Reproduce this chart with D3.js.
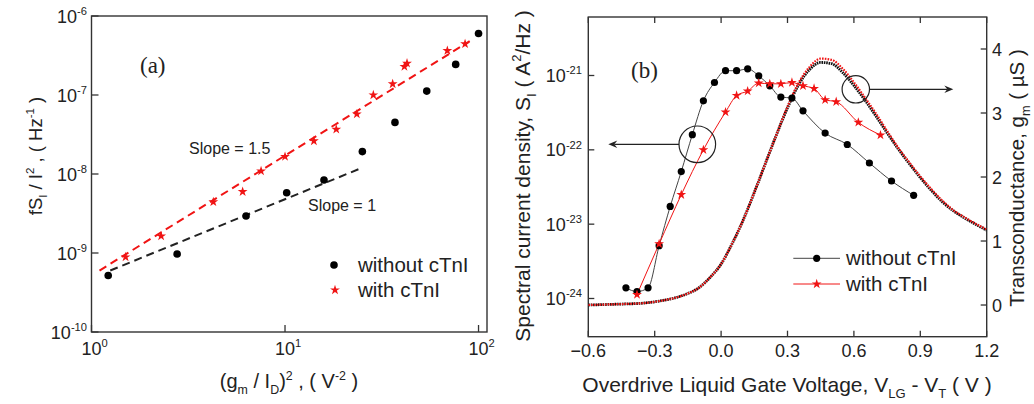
<!DOCTYPE html>
<html><head><meta charset="utf-8">
<script src="https://cdn.jsdelivr.net/npm/d3@7"></script>
<style>
body{margin:0;background:#fff}
text{font-family:Arial,"Liberation Sans",sans-serif;fill:#222;white-space:pre}
</style>
</head><body>
<svg id="c" width="1034" height="404"></svg>
<script>
// ---------- Panel (a) data ----------
const aXTicks = [1, 10, 100];
const aXTickExp = ["0", "1", "2"];
const aYTicks = [1e-10, 1e-9, 1e-8, 1e-7, 1e-6];
const aYTickExp = ["-10", "-9", "-8", "-7", "-6"];
const aWithoutX = [1.22, 2.77, 6.29, 10.2, 15.9, 25.1, 37.0, 54.0, 76.2, 100];
const aWithoutY = [5.2e-10, 9.7e-10, 2.94e-9, 5.8e-9, 8.4e-9, 1.92e-8, 4.5e-8, 1.12e-7, 2.44e-7, 6.0e-7];
const aWithX = [1.50, 2.29, 4.26, 6.04, 7.52, 10.0, 14.1, 18.4, 23.5, 28.6, 36.0, 41.4, 42.7, 69.0, 85.2];
const aWithY = [8.9e-10, 1.64e-9, 4.43e-9, 5.97e-9, 1.09e-8, 1.66e-8, 2.62e-8, 3.68e-8, 5.74e-8, 1.0e-7, 1.38e-7, 2.29e-7, 2.52e-7, 3.64e-7, 4.43e-7];
const aFitWithX = [1.1, 90];
const aFitWithY = [6.0e-10, 4.8e-7];
const aFitWithoutX = [1.25, 24];
const aFitWithoutY = [6.0e-10, 1.15e-8];
const legendLabels = ["without cTnI", "with cTnI"];

// ---------- Panel (b) data ----------
const bXTicks = [-0.6, -0.3, 0.0, 0.3, 0.6, 0.9, 1.2];
const bYTicks = [1e-24, 1e-23, 1e-22, 1e-21];
const bYTickExp = ["-24", "-23", "-22", "-21"];
const bGmTicks = [0, 1, 2, 3, 4];
const bWithoutV = [-0.43, -0.38, -0.33, -0.28, -0.23, -0.18, -0.13, -0.08, -0.03, 0.02, 0.07, 0.12, 0.17, 0.22, 0.27, 0.32, 0.37, 0.47, 0.57, 0.67, 0.77, 0.87];
const bWithoutS = [1.39e-24, 1.24e-24, 1.39e-24, 5.14e-24, 1.73e-23, 5.1e-23, 1.6e-22, 4.57e-22, 8.05e-22, 1.16e-21, 1.16e-21, 1.23e-21, 9.9e-22, 7.27e-22, 5.13e-22, 4.97e-22, 3.35e-22, 1.68e-22, 1.18e-22, 6.65e-23, 3.81e-23, 2.44e-23];
const bWithV = [-0.38, -0.28, -0.18, -0.08, 0.02, 0.07, 0.12, 0.17, 0.22, 0.27, 0.32, 0.37, 0.42, 0.47, 0.52, 0.62, 0.72];
const bWithS = [1.13e-24, 5.42e-24, 2.49e-23, 1.0e-22, 3.22e-22, 5.38e-22, 6.17e-22, 7.9e-22, 7.73e-22, 7.73e-22, 8.05e-22, 7.27e-22, 6.68e-22, 4.71e-22, 4.43e-22, 2.34e-22, 1.58e-22];
const bGmV = [-0.6, -0.55, -0.5, -0.45, -0.4, -0.35, -0.3, -0.25, -0.2, -0.15, -0.1, -0.05, 0.0, 0.05, 0.1, 0.15, 0.2, 0.25, 0.3, 0.35, 0.4, 0.45, 0.5, 0.55, 0.6, 0.65, 0.7, 0.75, 0.8, 0.85, 0.9, 0.95, 1.0, 1.05, 1.1, 1.15, 1.2];
const bGmWithout = [0.00, 0.005, 0.01, 0.015, 0.02, 0.03, 0.05, 0.08, 0.12, 0.18, 0.27, 0.43, 0.64, 0.96, 1.33, 1.76, 2.21, 2.66, 3.08, 3.44, 3.68, 3.79, 3.77, 3.63, 3.43, 3.20, 2.95, 2.69, 2.44, 2.21, 1.99, 1.79, 1.61, 1.47, 1.36, 1.26, 1.17];
const bGmWith = [0.00, 0.005, 0.01, 0.015, 0.02, 0.03, 0.05, 0.08, 0.12, 0.18, 0.27, 0.43, 0.64, 0.96, 1.33, 1.76, 2.21, 2.66, 3.10, 3.47, 3.72, 3.85, 3.83, 3.69, 3.48, 3.24, 2.99, 2.72, 2.46, 2.23, 2.01, 1.81, 1.63, 1.48, 1.37, 1.27, 1.18];

const RED = "#f01414";
const INK = "#222";
const svg = d3.select("#c");

function rich(sel, parts, fs) {
  let cur = 0;
  parts.forEach(([t, m]) => {
    const target = m === "sup" ? -0.42 * fs : m === "sub" ? 0.28 * fs : 0;
    sel.append("tspan").attr("dy", target - cur)
      .attr("font-size", m === "n" ? fs : fs * 0.62).text(t);
    cur = target;
  });
  return sel;
}
function star(sz){ return d3.symbol().type(d3.symbolStar).size(sz)(); }

// ================= Panel (a) =================
const ax = d3.scaleLog().domain([1, 110.6]).range([91.5, 487]);
const ay = d3.scaleLog().domain([1e-10, 1e-6]).range([332, 16]);
const ga = svg.append("g");
ga.append("rect").attr("x", 91.5).attr("y", 16).attr("width", 487 - 91.5).attr("height", 316)
  .attr("fill", "none").attr("stroke", "#333").attr("stroke-width", 1.4);
aXTicks.forEach((t, i) => {
  ga.append("line").attr("x1", ax(t)).attr("x2", ax(t)).attr("y1", 332).attr("y2", 325).attr("stroke", "#333").attr("stroke-width", 1.3);
  const tx = ga.append("text").attr("x", ax(t) - 10).attr("y", 355);
  rich(tx, [["10", "n"], [aXTickExp[i], "sup"]], 18);
});
aYTicks.forEach((t, i) => {
  ga.append("line").attr("x1", 91.5).attr("x2", 98.5).attr("y1", ay(t)).attr("y2", ay(t)).attr("stroke", "#333").attr("stroke-width", 1.3);
  const tx = ga.append("text").attr("x", 87).attr("y", ay(t) + 6.5).attr("text-anchor", "end");
  rich(tx, [["10", "n"], [aYTickExp[i], "sup"]], 18);
});
// fit lines
const aLine = d3.line().x(d => ax(d[0])).y(d => ay(d[1]));
ga.append("path").attr("d", aLine(d3.zip(aFitWithoutX, aFitWithoutY)))
  .attr("fill", "none").attr("stroke", INK).attr("stroke-width", 2).attr("stroke-dasharray", "8,5");
ga.append("path").attr("d", aLine(d3.zip(aFitWithX, aFitWithY)))
  .attr("fill", "none").attr("stroke", RED).attr("stroke-width", 2).attr("stroke-dasharray", "8,5");
// points
ga.selectAll("circle.wo").data(d3.zip(aWithoutX, aWithoutY)).join("circle")
  .attr("cx", d => ax(d[0])).attr("cy", d => ay(d[1])).attr("r", 3.8).attr("fill", "#000");
ga.selectAll("path.wi").data(d3.zip(aWithX, aWithY)).join("path")
  .attr("d", star(30)).attr("transform", d => `translate(${ax(d[0])},${ay(d[1])})`).attr("fill", RED);
ga.append("text").attr("x", 140).attr("y", 73).attr("font-size", 23)
  .style("font-family", "'Liberation Serif','Times New Roman',serif").text("(a)");
ga.append("text").attr("x", 189).attr("y", 154).attr("font-size", 16).text("Slope = 1.5");
ga.append("text").attr("x", 308).attr("y", 211).attr("font-size", 16).text("Slope = 1");
// legend
ga.append("circle").attr("cx", 334).attr("cy", 265).attr("r", 3.8).attr("fill", "#000");
ga.append("text").attr("x", 358).attr("y", 272).attr("font-size", 20.5).text(legendLabels[0]);
ga.append("path").attr("d", star(30)).attr("transform", "translate(335,290)").attr("fill", RED);
ga.append("text").attr("x", 358).attr("y", 297).attr("font-size", 20.5).text(legendLabels[1]);
// axis titles
const axt = ga.append("text").attr("x", 289).attr("y", 388).attr("text-anchor", "middle");
rich(axt, [["(g", "n"], ["m", "sub"], [" / I", "n"], ["D", "sub"], [")", "n"], ["2", "sup"], [" , ( V", "n"], ["-2", "sup"], [" )", "n"]], 20);
const ayt = ga.append("text").attr("transform", "translate(42,156) rotate(-90)").attr("text-anchor", "middle");
rich(ayt, [["fS", "n"], ["I", "sub"], [" / I", "n"], ["2", "sup"], [" , ( Hz", "n"], ["-1", "sup"], [" )", "n"]], 18.5);

// ================= Panel (b) =================
const L = 588.3, R = 986.7, T = 17, B = 336.7;
const bx = d3.scaleLinear().domain([-0.6, 1.2]).range([L, R]);
const by = d3.scaleLog().domain([Math.pow(10, -24.514), Math.pow(10, -20.213)]).range([B, T]);
const bg = d3.scaleLinear().domain([-0.495, 4.5]).range([B, T]);
const gb = svg.append("g");
gb.append("defs").append("clipPath").attr("id", "clipb").append("rect")
  .attr("x", L).attr("y", T).attr("width", R - L).attr("height", B - T);
gb.append("rect").attr("x", L).attr("y", T).attr("width", R - L).attr("height", B - T)
  .attr("fill", "none").attr("stroke", "#333").attr("stroke-width", 1.4);
bXTicks.forEach(t => {
  gb.append("line").attr("x1", bx(t)).attr("x2", bx(t)).attr("y1", B).attr("y2", B - 6).attr("stroke", "#333").attr("stroke-width", 1.3);
  gb.append("line").attr("x1", bx(t)).attr("x2", bx(t)).attr("y1", T).attr("y2", T + 6).attr("stroke", "#333").attr("stroke-width", 1.3);
  gb.append("text").attr("x", bx(t)).attr("y", 357).attr("text-anchor", "middle").attr("font-size", 18).text(d3.format(".1f")(t));
});
bYTicks.forEach((t, i) => {
  gb.append("line").attr("x1", L).attr("x2", L + 6).attr("y1", by(t)).attr("y2", by(t)).attr("stroke", "#333").attr("stroke-width", 1.3);
  const tx = gb.append("text").attr("x", 582).attr("y", by(t) + 6.5).attr("text-anchor", "end");
  rich(tx, [["10", "n"], [bYTickExp[i], "sup"]], 18);
});
bGmTicks.forEach(t => {
  gb.append("line").attr("x1", R).attr("x2", R - 6).attr("y1", bg(t)).attr("y2", bg(t)).attr("stroke", "#333").attr("stroke-width", 1.3);
  gb.append("text").attr("x", 992).attr("y", bg(t) + 6.5).attr("font-size", 18).text(t);
});
const plot = gb.append("g").attr("clip-path", "url(#clipb)");
// gm curves
const gmLine = d3.line().x(d => bx(d[0])).y(d => bg(d[1])).curve(d3.curveMonotoneX);
plot.append("path").attr("d", gmLine(d3.zip(bGmV, bGmWithout)))
  .attr("fill", "none").attr("stroke", "#111").attr("stroke-width", 2.8).attr("stroke-dasharray", "1.6,0.8");
plot.append("path").attr("d", gmLine(d3.zip(bGmV, bGmWith)))
  .attr("fill", "none").attr("stroke", RED).attr("stroke-width", 2.2).attr("stroke-dasharray", "1.6,1.2");
// S_I series
const sLine = d3.line().x(d => bx(d[0])).y(d => by(d[1])).curve(d3.curveMonotoneX);
plot.append("path").attr("d", sLine(d3.zip(bWithoutV, bWithoutS)))
  .attr("fill", "none").attr("stroke", "#444").attr("stroke-width", 1);
plot.append("path").attr("d", sLine(d3.zip(bWithV, bWithS)))
  .attr("fill", "none").attr("stroke", RED).attr("stroke-width", 1);
plot.selectAll("circle.bw").data(d3.zip(bWithoutV, bWithoutS)).join("circle")
  .attr("cx", d => bx(d[0])).attr("cy", d => by(d[1])).attr("r", 3.6).attr("fill", "#000");
plot.selectAll("path.bs").data(d3.zip(bWithV, bWithS)).join("path")
  .attr("d", star(30)).attr("transform", d => `translate(${bx(d[0])},${by(d[1])})`).attr("fill", RED);
// annotations
function arrow(x1, x2, y) {
  const dir = Math.sign(x2 - x1);
  gb.append("line").attr("x1", x1).attr("x2", x2 - dir * 6).attr("y1", y).attr("y2", y).attr("stroke", "#222").attr("stroke-width", 1.3);
  gb.append("path").attr("d", `M${x2},${y} L${x2 - dir * 9},${y - 3.8} L${x2 - dir * 6},${y} L${x2 - dir * 9},${y + 3.8} Z`).attr("fill", "#222");
}
gb.append("circle").attr("cx", 697.3).attr("cy", 144.3).attr("r", 18.3).attr("fill", "none").attr("stroke", "#222").attr("stroke-width", 1.2);
arrow(679, 608.3, 144.3);
gb.append("circle").attr("cx", 855.8).attr("cy", 89.3).attr("r", 13.7).attr("fill", "none").attr("stroke", "#222").attr("stroke-width", 1.2);
arrow(869.5, 953.3, 89.3);
gb.append("text").attr("x", 631).attr("y", 78).attr("font-size", 23)
  .style("font-family", "'Liberation Serif','Times New Roman',serif").text("(b)");
// legend
gb.append("line").attr("x1", 793.3).attr("x2", 840).attr("y1", 258.3).attr("y2", 258.3).attr("stroke", "#444").attr("stroke-width", 1);
gb.append("circle").attr("cx", 816.7).attr("cy", 258.3).attr("r", 3.6).attr("fill", "#000");
gb.append("text").attr("x", 846).attr("y", 265).attr("font-size", 20.5).text(legendLabels[0]);
gb.append("line").attr("x1", 793.3).attr("x2", 840).attr("y1", 284).attr("y2", 284).attr("stroke", RED).attr("stroke-width", 1);
gb.append("path").attr("d", star(30)).attr("transform", "translate(816.7,284)").attr("fill", RED);
gb.append("text").attr("x", 846).attr("y", 291).attr("font-size", 20.5).text(legendLabels[1]);
// axis titles
const bxt = gb.append("text").attr("x", 787).attr("y", 392).attr("text-anchor", "middle");
rich(bxt, [["Overdrive Liquid Gate Voltage, V", "n"], ["LG", "sub"], [" - V", "n"], ["T", "sub"], [" ( V )", "n"]], 21);
const byt = gb.append("text").attr("transform", "translate(530,176) rotate(-90)").attr("text-anchor", "middle");
rich(byt, [["Spectral current density, S", "n"], ["I", "sub"], [" ( A", "n"], ["2", "sup"], ["/Hz )", "n"]], 21);
const bgt = gb.append("text").attr("transform", "translate(1024,178) rotate(-90)").attr("text-anchor", "middle");
rich(bgt, [["Transconductance, g", "n"], ["m", "sub"], [" ( µS )", "n"]], 20.5);
</script>
</body></html>
